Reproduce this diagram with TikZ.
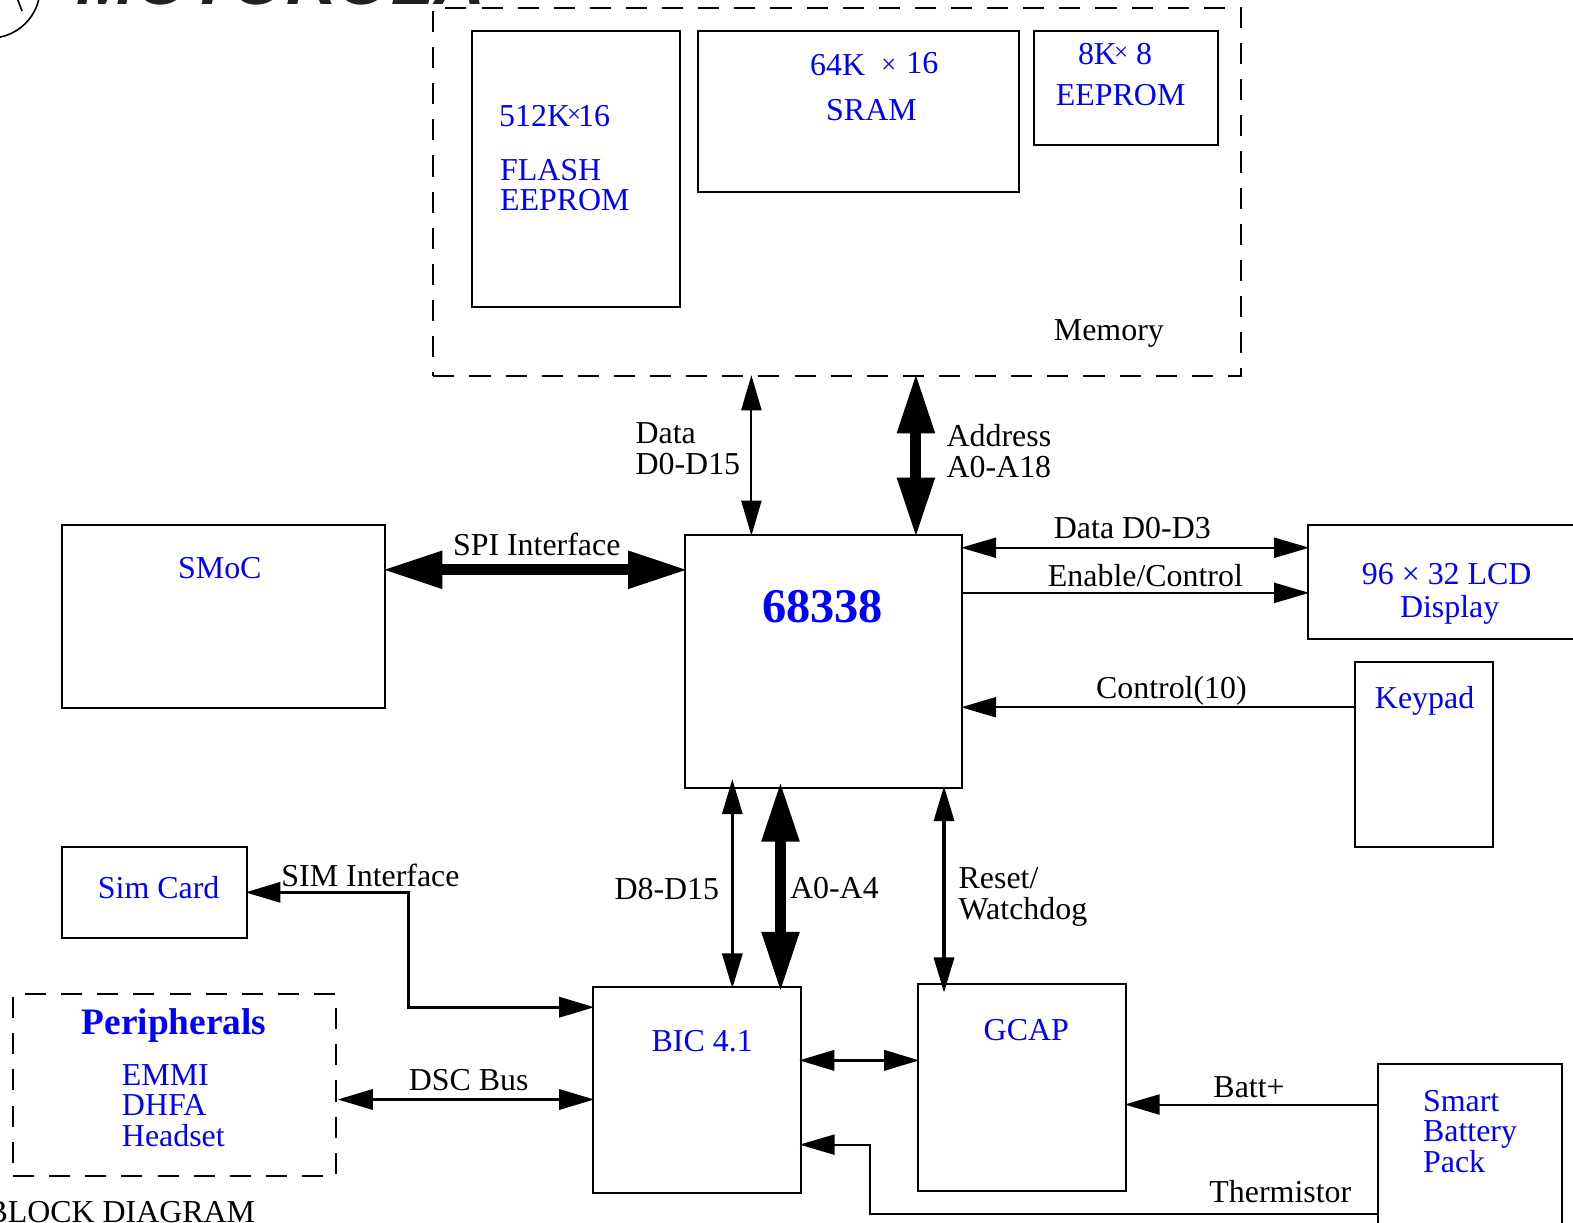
\documentclass[tikz,border=0pt]{standalone}
\usepackage{fontspec}
\setmainfont{Liberation Serif}
\newfontfamily\logofont{Liberation Sans}
\usetikzlibrary{arrows.meta,calc}
\definecolor{lblue}{RGB}{0,0,255}
\newcommand{\sz}[1]{\fontsize{#1}{15}\selectfont}
\tikzset{
  x=0.5pt,y=-0.5pt,
  boxn/.style={draw=black,line width=1pt,inner sep=0pt,outer sep=0pt,minimum width=#1},
  dashn/.style={draw=black,line width=1pt,inner sep=0pt,outer sep=0pt,dash pattern=on 10.5pt off 7.5pt,minimum width=#1},
  lbl/.style={anchor=base west,inner sep=0pt,outer sep=0pt,align=left,font=\sz{15.9},xshift=-0.2pt},
  blbl/.style={lbl,text=lblue},
  conn/.style={draw=black,line width=1pt,shorten <=-0.5pt,shorten >=-0.5pt},
  midc/.style={draw=black,line width=1.6pt,shorten <=-0.7pt,shorten >=-0.7pt},
  fat/.style={draw=black,line width=5.5pt,shorten <=-1.5pt,shorten >=-1.5pt},
  >={Triangle[length=17.5pt,width=10pt]},
  bigtip/.tip={Triangle[length=30pt,width=17.5pt]},
}
\begin{document}
\begin{tikzpicture}
\useasboundingbox (0,0) rectangle (1568,1219);
\clip (0,0) rectangle (1568,1219);

% logo fragment
\draw[line width=0.8pt] (-10,-12) circle[radius=25pt];
\draw[line width=0.8pt] (17,-2) -- (22,11);
\node[lbl,font=\logofont\bfseries\itshape\fontsize{35}{36}\selectfont,text={rgb,255:red,35;green,31;blue,32}] (motorola) at (77,4) {MOTOROLA};

% boxes
\node[dashn=402.5pt,minimum height=183.5pt] (mem) at (834.5,191.5) {};
\node[boxn=104pt,minimum height=137.5pt] (flash) at (574,168.5) {};
\node[boxn=160pt,minimum height=80pt] (sram) at (856,111) {};
\node[boxn=91.5pt,minimum height=57pt] (eeprom) at (1122.5,88) {};
\node[boxn=161pt,minimum height=91.5pt] (smoc) at (223,614.5) {};
\node[boxn=138pt,minimum height=126pt] (cpu) at (821,659) {};
\node[boxn=143pt,minimum height=57pt] (lcd) at (1447,580) {};
\node[boxn=68.5pt,minimum height=92pt] (keypad) at (1419.5,752) {};
\node[boxn=92pt,minimum height=45.5pt] (sim) at (154,889.5) {};
\node[dashn=161pt,minimum height=90.5pt] (periph) at (174,1081.5) {};
\node[boxn=103.5pt,minimum height=102.5pt] (bic) at (694.5,1086.5) {};
\node[boxn=103.5pt,minimum height=103pt] (gcap) at (1018.5,1084) {};
\node[boxn=91.5pt,minimum height=89pt] (batt) at (1465.5,1150) {};

% connectors
\draw[conn,<->] ([xshift=158.5pt]mem.south west) -- ([xshift=33pt]cpu.north west);
\draw[fat,bigtip-bigtip] ([xshift=240.5pt]mem.south west) -- ([xshift=115pt]cpu.north west);
\draw[fat,bigtip-bigtip] ([yshift=23.25pt]smoc.east) -- ([yshift=45.5pt]cpu.west);
\draw[conn,<->] ([yshift=-6.5pt]cpu.north east) -- ([yshift=-11.5pt]lcd.north west);
\draw[conn,->,shorten <=0pt] ([yshift=-29pt]cpu.north east) -- ([yshift=-34pt]lcd.north west);
\draw[conn,->,shorten <=0pt] ([yshift=-22.5pt]keypad.north west) -- ([yshift=-86pt]cpu.north east);
\draw[midc,<->] ([xshift=23.5pt,yshift=3.5pt]cpu.south west) -- ([xshift=69.5pt]bic.north west);
\draw[fat,bigtip-bigtip] ([xshift=47.5pt,yshift=1.5pt]cpu.south west) -- ([xshift=93.5pt,yshift=-1pt]bic.north west);
\draw[midc,<->] ([xshift=-9pt]cpu.south east) -- ([xshift=13pt,yshift=-3.5pt]gcap.north west);
\draw[midc,<->] ([yshift=-36.5pt]bic.north east) -- ([yshift=-38pt]gcap.north west);
\draw[conn,->,shorten <=0pt] ([yshift=-20pt]batt.north west) -- ([yshift=-60pt]gcap.north east);
\draw[midc,<->] ([xshift=1.5pt,yshift=-7.25pt]periph.east) -- ([yshift=-4.75pt]bic.west);
\coordinate (simknee) at (407,889.5);
\coordinate (bicknee) at (407,1004);
\coordinate (thermA) at (867,1210);
\coordinate (thermB) at (867,1141);
\draw[conn,->,shorten <=0pt] ([yshift=-74.5pt]batt.north west) -- (thermA) -- (thermB) -- ([yshift=-78.5pt]bic.north east);
\draw[midc,<->] (sim.east) -- (simknee) -- (bicknee) -- ([yshift=-10pt]bic.north west);

% labels
\node[blbl] (t1) at (498,126) {512K\kern-1.5pt\raisebox{2pt}{\sz{12.5}×}\kern-1.5pt 16};
\node[blbl] (t2) at (499,180) {FLASH};
\node[blbl] (t3) at (499,210) {EEPROM};
\node[blbl] (t4) at (808,75) {64K\hspace{8pt}\raisebox{1pt}{\sz{13.5}×}\hspace{5pt}\raisebox{1pt}{16}};
\node[blbl] (t5) at (824,120) {SRAM};
\node[blbl] (t6) at (1075,64) {8K\kern-1.5pt\raisebox{2pt}{\sz{12.5}×} 8};
\node[blbl] (t7) at (1053,105) {EEPROM};
\node[lbl] (t8) at (1051,339) {Memory};
\node[lbl] (t9) at (634,442) {Data};
\node[lbl] (t10) at (634,473) {D0-D15};
\node[lbl] (t11) at (944,445) {Address};
\node[lbl] (t12) at (944,476) {A0-A18};
\node[lbl] (t13) at (452,554) {SPI Interface};
\node[blbl] (t14) at (178,577) {SMoC};
\node[blbl,font=\bfseries\sz{24.1}] (t15) at (760,621) {68338};
\node[lbl] (t16) at (1051,537) {Data D0-D3};
\node[lbl] (t17) at (1045,585) {Enable/Control};
\node[blbl] (t18) at (1358,583) {96 × 32 LCD};
\node[blbl] (t19) at (1396,616) {Display};
\node[lbl] (t20) at (1093,696) {Control(10)};
\node[blbl] (t21) at (1371,706) {Keypad};
\node[lbl] (t22) at (281,884) {SIM Interface};
\node[blbl] (t23) at (98,896) {Sim Card};
\node[lbl] (t24) at (613,897) {D8-D15};
\node[lbl] (t25) at (788,896) {A0-A4};
\node[lbl] (t26) at (956,886) {Reset/};
\node[lbl] (t27) at (956,917) {Watchdog};
\node[blbl] (t28) at (650,1048) {BIC 4.1};
\node[blbl] (t29) at (981,1037) {GCAP};
\node[blbl,font=\bfseries\sz{18.6}] (t30) at (82,1031) {Peripherals};
\node[blbl] (t31) at (122,1082) {EMMI};
\node[blbl] (t32) at (122,1112) {DHFA};
\node[blbl] (t33) at (122,1143) {Headset};
\node[lbl] (t34) at (408,1087) {DSC Bus};
\node[lbl] (t35) at (1210,1094) {Batt+};
\node[blbl] (t36) at (1419,1108) {Smart};
\node[blbl] (t37) at (1419,1138) {Battery};
\node[blbl] (t38) at (1419,1169) {Pack};
\node[lbl] (t39) at (1206,1199) {Thermistor};
\node[lbl] (t40) at (-13,1219) {BLOCK DIAGRAM};
\end{tikzpicture}
\end{document}
